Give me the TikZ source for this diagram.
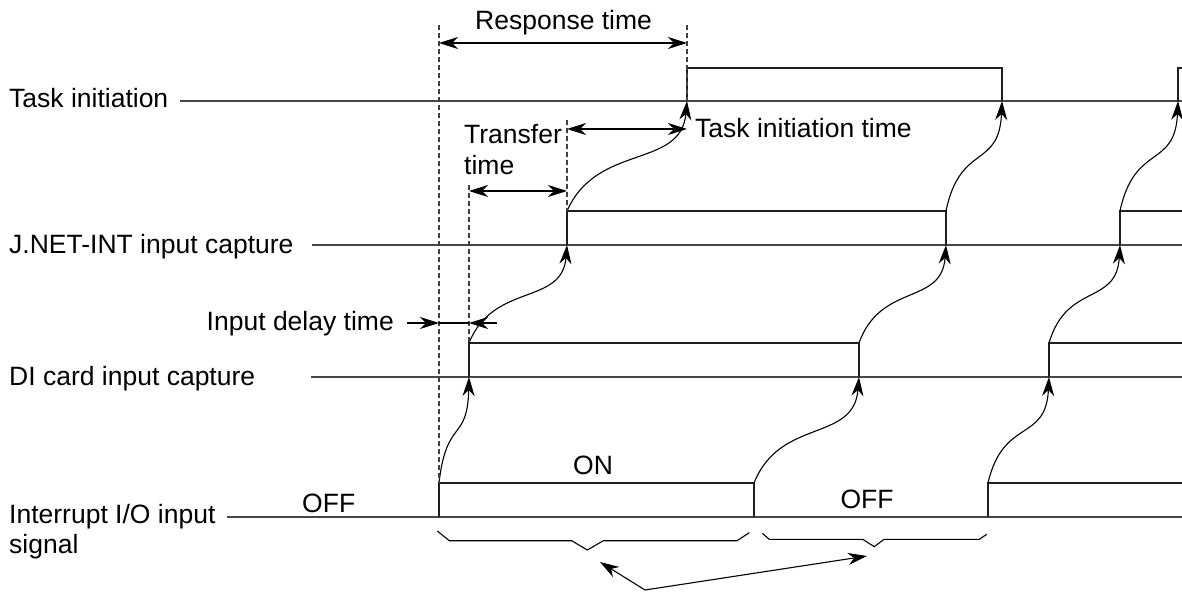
\documentclass[tikz,border=0pt]{standalone}
\usepackage{fontspec}
\setmainfont{Liberation Sans}
\usetikzlibrary{arrows.meta,calc}
% S-shaped causal arrow from the edge of one signal to the edge of the next
\newcommand\sigcurve[2]{%
  \draw[wave] let \p1=(#1), \p2=(#2) in
    (#1) .. controls ({\x1+0.25*(\x2-\x1)},{\y1+0.62*(\y2-\y1)})
         and ({\x2-0.05*(\x2-\x1)},{\y2-0.62*(\y2-\y1)}) .. (#2);}
\begin{document}
\begin{tikzpicture}[x=1pt,y=-1pt,
  lbl/.style={inner sep=0pt, font=\fontsize{26.5}{31}\selectfont},
  sig/.style={line width=1.8pt, draw=black!72},
  pulse/.style={line width=1.5pt, draw=black!88, line join=miter},
  guide/.style={line width=1.1pt, dash pattern=on 5pt off 3pt, draw=black!75},
  arrowhd/.style={-{Stealth[length=19pt,width=12pt,inset=6pt]}},
  dimline/.style={line width=1.1pt,
    {Stealth[length=19pt,width=12pt,inset=6pt]}-{Stealth[length=19pt,width=12pt,inset=6pt]}},
  wave/.style={line width=1.1pt, arrowhd},
  brace/.style={line width=1.1pt, line join=miter}]
\useasboundingbox (0,0) rectangle (1182,591);

% ---------------- signal labels ----------------
\node[lbl, anchor=base west] (lTask) at (9,108) {Task initiation};
\node[lbl, anchor=base west] (lJnet) at (9,253) {J.NET-INT input capture};
\node[lbl, anchor=base west] (lDi)   at (9,385) {DI card input capture};
\node[lbl, anchor=base west] (lIo)   at (9,523) {Interrupt I/O input};
\node[lbl, anchor=base west] (lIo2)  at (9,553) {signal};

% ---------------- Task initiation ----------------
\coordinate (tA) at (180,101);  \coordinate (tE) at (1182,101);
\coordinate (t1l) at (687,101); \coordinate (t1h) at (687,68);
\coordinate (t2h) at (1002,68); \coordinate (t2l) at (1002,101);
\coordinate (t3l) at (1178,101);\coordinate (t3h) at (1178,68);
\coordinate (tEh) at (1182,68);
\draw[sig] (tA) -- (tE);
\draw[pulse] (t1l) -- (t1h) -- (t2h) -- (t2l);
\draw[pulse] (t3l) -- (t3h) -- (tEh);

% ---------------- J.NET-INT input capture ----------------
\coordinate (jA) at (312,245);  \coordinate (jE) at (1182,245);
\coordinate (j1l) at (567,245); \coordinate (j1h) at (567,211);
\coordinate (j2h) at (946,211); \coordinate (j2l) at (946,245);
\coordinate (j3l) at (1120,245);\coordinate (j3h) at (1120,211);
\coordinate (jEh) at (1182,211);
\draw[sig] (jA) -- (jE);
\draw[pulse] (j1l) -- (j1h) -- (j2h) -- (j2l);
\draw[pulse] (j3l) -- (j3h) -- (jEh);

% ---------------- DI card input capture ----------------
\coordinate (dA) at (311,377);  \coordinate (dE) at (1182,377);
\coordinate (d1l) at (469,377); \coordinate (d1h) at (469,343);
\coordinate (d2h) at (859,343); \coordinate (d2l) at (859,377);
\coordinate (d3l) at (1049,377);\coordinate (d3h) at (1049,343);
\coordinate (dEh) at (1182,343);
\draw[sig] (dA) -- (dE);
\draw[pulse] (d1l) -- (d1h) -- (d2h) -- (d2l);
\draw[pulse] (d3l) -- (d3h) -- (dEh);

% ---------------- Interrupt I/O input signal ----------------
\coordinate (iA) at (227,517);  \coordinate (iE) at (1182,517);
\coordinate (i1l) at (439,517); \coordinate (i1h) at (439,483);
\coordinate (i2h) at (754,483); \coordinate (i2l) at (754,517);
\coordinate (i3l) at (988,517); \coordinate (i3h) at (988,483);
\coordinate (iEh) at (1182,483);
\draw[sig] (iA) -- (iE);
\draw[pulse] (i1l) -- (i1h) -- (i2h) -- (i2l);
\draw[pulse] (i3l) -- (i3h) -- (iEh);

\node[lbl, anchor=base west] (off1) at (302,512) {OFF};
\node[lbl, anchor=base] (on1) at (593,474) {ON};
\node[lbl, anchor=base] (off2) at (867,508) {OFF};

% ---------------- propagation arrows ----------------
\sigcurve{i1h}{d1l}
\sigcurve{i2h}{d2l}
\sigcurve{i3h}{d3l}
\sigcurve{d1h}{j1l}
\sigcurve{d2h}{j2l}
\sigcurve{d3h}{j3l}
\sigcurve{j1h}{t1l}
\sigcurve{j2h}{t2l}
\sigcurve{j3h}{t3l}

% ---------------- timing guides ----------------
\coordinate (g0) at (439,25);
\coordinate (g1) at (687,25);
\coordinate (g2) at (567,120);
\coordinate (g3) at (469,185);
\draw[guide] (g0) -- (i1h);
\draw[guide] (g1) -- (t1l);
\draw[guide] (g2) -- (j1h);
\draw[guide] (g3) -- (d1h);

% Response time
\coordinate (r0) at (439,43); \coordinate (r1) at (687,43);
\draw[dimline] (r0) -- (r1);
\node[lbl, anchor=base west] (lResp) at (475,30) {Response time};

% Task initiation time
\coordinate (k0) at (567,129); \coordinate (k1) at (687,129);
\draw[dimline] (k0) -- (k1);
\node[lbl, anchor=base west] (lTinit) at (695,137) {Task initiation time};

% Transfer time
\coordinate (x0) at (469,191); \coordinate (x1) at (567,191);
\draw[dimline] (x0) -- (x1);
\node[lbl, anchor=base west] (lTr1) at (464,143) {Transfer};
\node[lbl, anchor=base west] (lTr2) at (464,174) {time};

% Input delay time
\coordinate (p0) at (407,323); \coordinate (p1) at (439,323);
\coordinate (p2) at (469,323); \coordinate (p3) at (497,323);
\draw[line width=1.1pt] (p1) -- (p2);
\draw[line width=1.1pt, arrowhd] (p0) -- (p1);
\draw[line width=1.1pt, arrowhd] (p3) -- (p2);
\node[lbl, anchor=base east] (lDelay) at (394,330) {Input delay time};

% ---------------- ON / OFF spans ----------------
\draw[brace] (437.3,531) -- (449.3,540.7) -- (571.7,540.7) -- (587.3,550)
  -- (603.3,540.7) -- (737,540.7) -- (749.3,532.7);
\draw[brace] (762.3,533.3) -- (769.3,539.3) -- (862.7,539.3) -- (874.3,546.7)
  -- (884,539.3) -- (979.3,539.3) -- (986.7,534.3);
\coordinate (b0) at (645,590);
\coordinate (b1) at (600,562);
\coordinate (b2) at (867,556);
\draw[line width=1.1pt, arrowhd] (b0) -- (b1);
\draw[line width=1.1pt, arrowhd] (b0) -- (b2);
\end{tikzpicture}
\end{document}
